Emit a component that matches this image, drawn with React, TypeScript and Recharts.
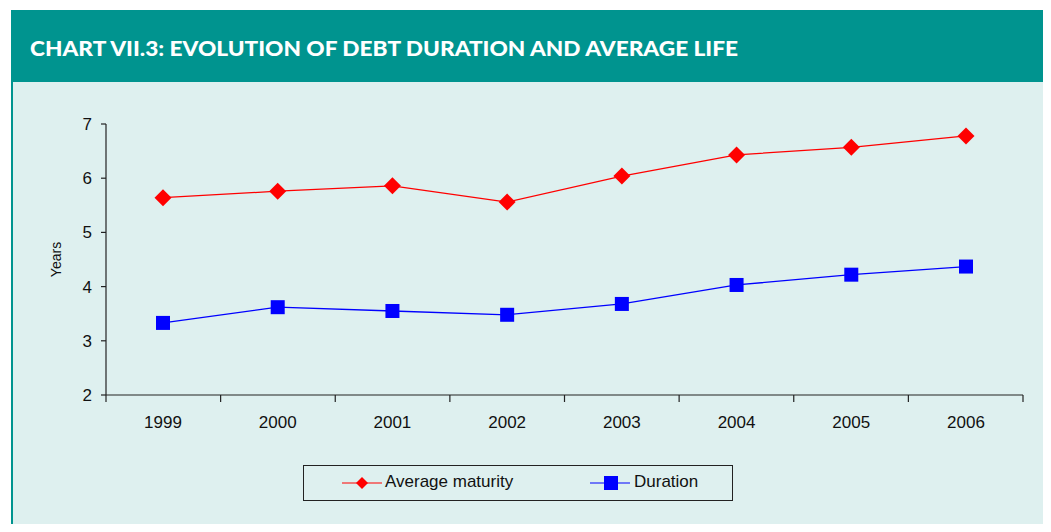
import { LineChart, Line, XAxis, YAxis, Label } from 'recharts';

const years = ['1999', '2000', '2001', '2002', '2003', '2004', '2005', '2006'];
const averageMaturity = [5.64, 5.76, 5.86, 5.56, 6.04, 6.43, 6.57, 6.78];
const duration = [3.33, 3.62, 3.55, 3.48, 3.68, 4.03, 4.22, 4.37];
const yTicks = [2, 3, 4, 5, 6, 7];
const boundaryTicks = [0, 1, 2, 3, 4, 5, 6, 7, 8];

const rows = years.map((year, i) => ({
  year,
  idx: i + 0.5,
  maturity: averageMaturity[i],
  duration: duration[i],
}));

const TEAL = '#00948F';
const PANEL = '#DEF0EF';
const FONT = '"Liberation Sans", Arial, sans-serif';

function Diamond(props: any) {
  const { cx, cy } = props;
  if (cx == null || cy == null) return null;
  const r = 8.5;
  return (
    <path
      d={`M${cx},${cy - r} L${cx + r},${cy} L${cx},${cy + r} L${cx - r},${cy} Z`}
      fill="#FF0000"
    />
  );
}

function Square(props: any) {
  const { cx, cy } = props;
  if (cx == null || cy == null) return null;
  const s = 7;
  return <rect x={cx - s} y={cy - s} width={s * 2} height={s * 2} fill="#0000FF" />;
}

function LegendBox() {
  return (
    <div
      style={{
        position: 'absolute',
        left: 303,
        top: 465,
        width: 428,
        height: 34,
        border: '1px solid #222',
        fontFamily: FONT,
        fontSize: 17,
        color: '#111',
      }}
    >
      <svg width={80} height={34} style={{ position: 'absolute', left: 38, top: 0 }}>
        <line x1={0} y1={17} x2={40} y2={17} stroke="#FF0000" strokeWidth={1.2} />
        <path d="M20,11 L26,17 L20,23 L14,17 Z" fill="#FF0000" />
      </svg>
      <span style={{ position: 'absolute', left: 81, top: 6 }}>Average maturity</span>
      <svg width={80} height={34} style={{ position: 'absolute', left: 286, top: 0 }}>
        <line x1={0} y1={17} x2={40} y2={17} stroke="#0000FF" strokeWidth={1.2} />
        <rect x={14} y={10} width={14} height={14} fill="#0000FF" />
      </svg>
      <span style={{ position: 'absolute', left: 330, top: 6 }}>Duration</span>
    </div>
  );
}

export default function App() {
  return (
    <div
      style={{
        position: 'relative',
        width: 1051,
        height: 532,
        margin: -8,
        background: '#FFFFFF',
        overflow: 'hidden',
      }}
    >
      <div
        style={{
          position: 'absolute',
          left: 11,
          top: 10,
          width: 1040,
          height: 72,
          background: TEAL,
        }}
      >
        <svg width={1040} height={72}>
          <text
            x={19}
            y={46}
            fill="#FFFFFF"
            fontFamily="Lato, sans-serif"
            fontWeight={900}
            fontSize={21}
            textLength={708}
            lengthAdjust="spacingAndGlyphs"
          >
            CHART VII.3: EVOLUTION OF DEBT DURATION AND AVERAGE LIFE
          </text>
        </svg>
      </div>
      <div
        style={{
          position: 'absolute',
          left: 11,
          top: 82,
          width: 1040,
          height: 450,
          background: PANEL,
          borderLeft: `2px solid ${TEAL}`,
          boxSizing: 'border-box',
        }}
      />
      <div style={{ position: 'absolute', left: 0, top: 0 }}>
        <LineChart
          width={1051}
          height={532}
          data={rows}
          margin={{ top: 124, right: 28, bottom: 106, left: 46 }}
        >
          <XAxis
            xAxisId="z"
            dataKey="year"
            type="category"
            padding={{ left: 57, right: 57 }}
            axisLine={false}
            tickLine={false}
            tick={{ fill: '#111', fontSize: 17, fontFamily: FONT }}
            tickMargin={14}
            height={30}
            interval={0}
          />
          <XAxis
            xAxisId="a"
            dataKey="idx"
            type="number"
            domain={[0, 8]}
            ticks={boundaryTicks}
            tick={() => <g />}
            axisLine={{ stroke: '#222', strokeWidth: 1.2 }}
            tickLine={{ stroke: '#222', strokeWidth: 1.2 }}
            tickSize={7}
            height={1}
          />
          <YAxis
            domain={[2, 7]}
            ticks={yTicks}
            width={60}
            axisLine={{ stroke: '#222', strokeWidth: 1.2 }}
            tickLine={{ stroke: '#222', strokeWidth: 1.2 }}
            tickSize={5}
            tickMargin={9}
            tick={{ fill: '#111', fontSize: 17, fontFamily: FONT }}
          >
            <Label
              value="Years"
              angle={-90}
              position="insideLeft"
              offset={10}
              style={{ fill: '#111', fontSize: 14, fontFamily: FONT, textAnchor: 'middle' }}
            />
          </YAxis>
          <Line
            xAxisId="z"
            dataKey="maturity"
            name="Average maturity"
            stroke="#FF0000"
            strokeWidth={1.3}
            dot={<Diamond />}
            activeDot={false}
            isAnimationActive={false}
          />
          <Line
            xAxisId="z"
            dataKey="duration"
            name="Duration"
            stroke="#0000FF"
            strokeWidth={1.3}
            dot={<Square />}
            activeDot={false}
            isAnimationActive={false}
          />
        </LineChart>
      </div>
      <LegendBox />
    </div>
  );
}
